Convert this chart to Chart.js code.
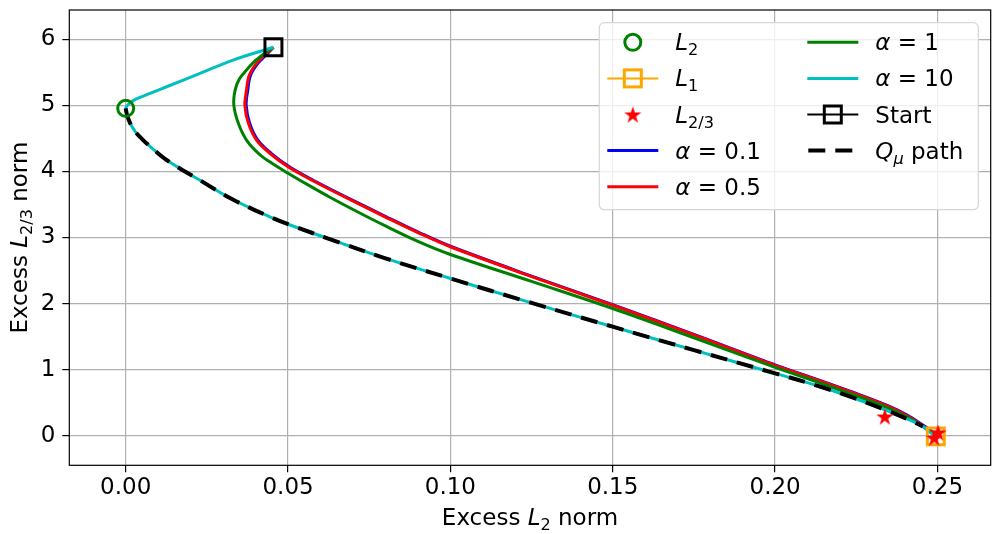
<!DOCTYPE html>
<html>
<head>
<meta charset="utf-8">
<script src="https://cdn.jsdelivr.net/npm/chart.js@4.4.0/dist/chart.umd.min.js"></script>
<style>
    html, body { margin: 0; padding: 0; background: #fff; }
    canvas { display: block; }
</style>
</head>
<body>
<canvas id="pathChart" width="999" height="534"></canvas>
<script>
// ==========================================
// DATA
// ==========================================
const xTicks = [0, 0.05, 0.10, 0.15, 0.20, 0.25];
const xTickLabels = ['0.00', '0.05', '0.10', '0.15', '0.20', '0.25'];
const yTicks = [0, 1, 2, 3, 4, 5, 6];
const yTickLabels = ['0', '1', '2', '3', '4', '5', '6'];

const alphaValues = [0.1, 0.5, 1, 10];

// single markers
const l2X = [0.0];
const l2Y = [4.955];
const l1X = [0.2495];
const l1Y = [-0.01];
const l23X = [0.2338, 0.2502, 0.2490];
const l23Y = [0.29, 0.05, -0.03];
const startX = [0.0455];
const startY = [5.88];

// alpha = 0.1
const a01X = [0.0455, 0.0438, 0.0407, 0.0384, 0.0376, 0.0371, 0.0382, 0.0407, 0.0448, 0.0504, 0.0582, 0.0674, 0.0804, 0.0904, 0.1004, 0.1254, 0.1504, 0.1754, 0.2004, 0.2142, 0.2244, 0.2347, 0.2408, 0.2448, 0.2479, 0.2495];
const a01Y = [5.880, 5.790, 5.636, 5.450, 5.232, 5.005, 4.728, 4.475, 4.274, 4.070, 3.855, 3.625, 3.310, 3.075, 2.860, 2.409, 1.975, 1.525, 1.065, 0.830, 0.650, 0.455, 0.310, 0.185, 0.080, -0.010];

// alpha = 0.5
const a05X = [0.0455, 0.0434, 0.0403, 0.0380, 0.0372, 0.0367, 0.0378, 0.0403, 0.0444, 0.0500, 0.0578, 0.0670, 0.0800, 0.0900, 0.1000, 0.1250, 0.1500, 0.1750, 0.2000, 0.2138, 0.2240, 0.2343, 0.2404, 0.2445, 0.2476, 0.2495];
const a05Y = [5.880, 5.790, 5.636, 5.450, 5.232, 5.005, 4.728, 4.475, 4.274, 4.070, 3.855, 3.625, 3.310, 3.075, 2.860, 2.409, 1.975, 1.525, 1.065, 0.830, 0.650, 0.455, 0.310, 0.185, 0.080, -0.010];

// alpha = 1
const a1X = [0.0455, 0.0434, 0.0400, 0.0372, 0.0350, 0.0337, 0.0333, 0.0347, 0.0372, 0.0413, 0.0460, 0.0500, 0.0547, 0.0629, 0.0721, 0.0800, 0.0900, 0.0998, 0.1250, 0.1500, 0.1750, 0.2000, 0.2138, 0.2240, 0.2343, 0.2404, 0.2445, 0.2476, 0.2495];
const a1Y = [5.880, 5.810, 5.680, 5.535, 5.400, 5.232, 5.005, 4.728, 4.475, 4.256, 4.094, 3.973, 3.837, 3.610, 3.371, 3.175, 2.942, 2.747, 2.335, 1.925, 1.483, 1.035, 0.800, 0.620, 0.430, 0.290, 0.170, 0.070, -0.010];

// alpha = 10
const a10X = [0.0455, 0.0331, 0.0229, 0.0126, 0.0075, 0.0044, 0.0023, 0.0009, 0.0000, 0.0005, 0.0015, 0.0030, 0.0052, 0.0079, 0.0127, 0.0229, 0.0330, 0.0444, 0.0500, 0.0650, 0.0800, 0.1000, 0.1250, 0.1500, 0.1750, 0.2000, 0.2138, 0.2240, 0.2343, 0.2415, 0.2455, 0.2476, 0.2492];
const a10Y = [5.880, 5.686, 5.485, 5.282, 5.182, 5.122, 5.072, 5.020, 4.955, 4.839, 4.718, 4.600, 4.483, 4.362, 4.170, 3.866, 3.575, 3.313, 3.201, 2.939, 2.685, 2.380, 2.010, 1.650, 1.295, 0.944, 0.745, 0.575, 0.385, 0.235, 0.140, 0.060, -0.010];

// Q_mu path
const qX = [0.0000, 0.0005, 0.0015, 0.0030, 0.0052, 0.0079, 0.0127, 0.0229, 0.0330, 0.0444, 0.0500, 0.0650, 0.0800, 0.1000, 0.1250, 0.1500, 0.1750, 0.2000, 0.2138, 0.2240, 0.2343, 0.2415, 0.2455];
const qY = [4.955, 4.839, 4.718, 4.600, 4.483, 4.362, 4.170, 3.866, 3.575, 3.313, 3.201, 2.939, 2.685, 2.380, 2.010, 1.650, 1.295, 0.944, 0.745, 0.575, 0.385, 0.235, 0.140];

// ==========================================
// HELPERS
// ==========================================
const FONT = '"DejaVu Sans", sans-serif';
const FS = 23;
const CYAN = '#00BFBF';
const GREEN = '#008000';
const ORANGE = '#FFA500';

function pts(xs, ys) {
    return xs.map((x, i) => ({ x: x, y: ys[i] }));
}

// filled five point star used as marker
function makeStar(size, color) {
    const c = document.createElement('canvas');
    c.width = size;
    c.height = size;
    const g = c.getContext('2d');
    const cx = size / 2, cy = size / 2 + 0.9;
    const ro = size / 2, ri = ro * 0.382;
    g.beginPath();
    for (let i = 0; i < 10; i++) {
        const r = i % 2 === 0 ? ro : ri;
        const ang = -Math.PI / 2 + i * Math.PI / 5;
        const px = cx + r * Math.cos(ang), py = cy + r * Math.sin(ang);
        if (i === 0) g.moveTo(px, py); else g.lineTo(px, py);
    }
    g.closePath();
    g.fillStyle = color;
    g.fill();
    return c;
}
const starImg = makeStar(18, '#FF0000');

// text with italic and subscript parts, mathtext style
function drawRich(ctx, parts, x, y, size, align) {
    const fontFor = p => (p.it ? 'italic ' : '') + (p.sub ? size * 0.7 : size) + 'px ' + FONT;
    let w = 0;
    parts.forEach(p => { ctx.font = fontFor(p); w += ctx.measureText(p.t).width; });
    let cx = align === 'center' ? x - w / 2 : x;
    ctx.textAlign = 'left';
    ctx.textBaseline = 'alphabetic';
    parts.forEach(p => {
        ctx.font = fontFor(p);
        ctx.fillText(p.t, cx, y + (p.sub ? size * 0.22 : 0));
        cx += ctx.measureText(p.t).width;
    });
}

function lineSet(label, xs, ys, color, order) {
    return {
        label: label,
        data: pts(xs, ys),
        showLine: true,
        borderColor: color,
        borderWidth: 3,
        pointRadius: 0,
        tension: 0.35,
        fill: false,
        borderJoinStyle: 'round',
        order: order
    };
}

// ==========================================
// FRAME, AXIS TITLES AND LEGEND
// ==========================================
const framePlugin = {
    id: 'frame',
    afterDatasetsDraw(chart) {
        const ctx = chart.ctx, a = chart.chartArea;
        ctx.save();
        ctx.strokeStyle = '#000';
        ctx.lineWidth = 1.2;
        ctx.strokeRect(a.left, a.top, a.right - a.left, a.bottom - a.top);
        ctx.restore();
    },
    afterDraw(chart) {
        const ctx = chart.ctx, a = chart.chartArea;
        ctx.save();
        ctx.fillStyle = '#000';
        drawRich(ctx, [{ t: 'Excess ' }, { t: 'L', it: 1 }, { t: '2', sub: 1 }, { t: ' norm' }],
            (a.left + a.right) / 2, 525, FS, 'center');
        ctx.translate(27, (a.top + a.bottom) / 2);
        ctx.rotate(-Math.PI / 2);
        drawRich(ctx, [{ t: 'Excess ' }, { t: 'L', it: 1 }, { t: '2/3', sub: 1 }, { t: ' norm' }],
            0, 0, FS, 'center');
        ctx.restore();
    }
};

const legendPlugin = {
    id: 'mplLegend',
    afterDraw(chart) {
        const ctx = chart.ctx, a = chart.chartArea;
        const bw = 379, bh = 187;
        const bx = a.right - 12.4 - bw, by = a.top + 12.7;
        ctx.save();
        ctx.beginPath();
        ctx.roundRect(bx, by, bw, bh, 5);
        ctx.fillStyle = 'rgba(255,255,255,0.8)';
        ctx.fill();
        ctx.strokeStyle = '#d6d6d6';
        ctx.lineWidth = 1.2;
        ctx.stroke();

        const alphaColors = ['#0000FF', '#FF0000', GREEN, CYAN];
        const entries = [
            { kind: 'circle', color: GREEN, parts: [{ t: 'L', it: 1 }, { t: '2', sub: 1 }] },
            { kind: 'lineSquare', color: ORANGE, parts: [{ t: 'L', it: 1 }, { t: '1', sub: 1 }] },
            { kind: 'star', parts: [{ t: 'L', it: 1 }, { t: '2/3', sub: 1 }] }
        ];
        alphaValues.forEach((v, i) => {
            entries.push({ kind: 'line', color: alphaColors[i], parts: [{ t: 'α', it: 1 }, { t: ' = ' }, { t: String(v) }] });
        });
        entries.push({ kind: 'lineSquare', color: '#000', parts: [{ t: 'Start' }] });
        entries.push({ kind: 'dash', color: '#000', parts: [{ t: 'Q', it: 1 }, { t: 'μ', it: 1, sub: 1 }, { t: ' path' }] });

        const rowH = 36.1;
        entries.forEach((e, i) => {
            const col = i < 5 ? 0 : 1;
            const row = col === 0 ? i : i - 5;
            const hx0 = bx + 8 + col * 200;
            const hx1 = hx0 + 51;
            const hc = (hx0 + hx1) / 2;
            const cy = by + 19.6 + row * rowH;
            ctx.setLineDash([]);
            if (e.kind === 'circle') {
                ctx.beginPath();
                ctx.arc(hc, cy, 8, 0, Math.PI * 2);
                ctx.strokeStyle = e.color;
                ctx.lineWidth = 3;
                ctx.stroke();
            } else if (e.kind === 'star') {
                ctx.drawImage(starImg, hc - 9, cy - 9);
            } else if (e.kind === 'line' || e.kind === 'lineSquare') {
                ctx.beginPath();
                ctx.moveTo(hx0, cy);
                ctx.lineTo(hx1, cy);
                ctx.strokeStyle = e.color;
                ctx.lineWidth = e.kind === 'line' ? 3 : 2;
                ctx.stroke();
                if (e.kind === 'lineSquare') {
                    ctx.lineWidth = 3;
                    ctx.strokeRect(hc - 8.5, cy - 8.5, 17, 17);
                }
            } else if (e.kind === 'dash') {
                ctx.beginPath();
                ctx.setLineDash([17, 10]);
                ctx.lineCap = 'butt';
                ctx.moveTo(hx0 + 1, cy);
                ctx.lineTo(hx1, cy);
                ctx.strokeStyle = e.color;
                ctx.lineWidth = 4;
                ctx.stroke();
                ctx.setLineDash([]);
            }
            ctx.fillStyle = '#000';
            drawRich(ctx, e.parts, hx1 + 17, cy + 8, FS, 'left');
        });
        ctx.restore();
    }
};

// ==========================================
// CHART
// ==========================================
function initPathChart() {
    const ctx = document.getElementById('pathChart');
    if (!ctx) return;

    new Chart(ctx, {
        type: 'scatter',
        data: {
            datasets: [
                { label: 'L2', data: pts(l2X, l2Y), pointStyle: 'circle', pointRadius: 8, borderColor: GREEN, borderWidth: 3, backgroundColor: 'rgba(0,0,0,0)', order: 4 },
                { label: 'L1', data: pts(l1X, l1Y), pointStyle: 'rect', pointRadius: 12, borderColor: ORANGE, borderWidth: 3, backgroundColor: 'rgba(0,0,0,0)', order: 2 },
                { label: 'L2/3', data: pts(l23X, l23Y), pointStyle: starImg, pointRadius: 9, order: 1 },
                lineSet('alpha 0.1', a01X, a01Y, '#0000FF', 9),
                lineSet('alpha 0.5', a05X, a05Y, '#FF0000', 8),
                lineSet('alpha 1', a1X, a1Y, GREEN, 7),
                lineSet('alpha 10', a10X, a10Y, CYAN, 6),
                { label: 'Start', data: pts(startX, startY), pointStyle: 'rect', pointRadius: 12, borderColor: '#000', borderWidth: 3, backgroundColor: 'rgba(0,0,0,0)', order: 3 },
                {
                    label: 'Q path',
                    data: pts(qX, qY),
                    showLine: true,
                    borderColor: '#000',
                    borderWidth: 4,
                    borderDash: [17, 10],
                    borderCapStyle: 'butt',
                    pointRadius: 0,
                    tension: 0.35,
                    order: 5
                }
            ]
        },
        options: {
            responsive: false,
            animation: false,
            devicePixelRatio: 1,
            events: [],
            layout: {
                autoPadding: false,
                padding: { left: 0, top: 10, right: 8.3, bottom: 0 }
            },
            plugins: {
                legend: { display: false },
                tooltip: { enabled: false }
            },
            scales: {
                x: {
                    type: 'linear',
                    min: -0.01737,
                    max: 0.2664,
                    afterBuildTicks: s => { s.ticks = xTicks.map(v => ({ value: v })); },
                    afterFit: s => { s.height = 68.7; s.paddingLeft = 0; s.paddingRight = 0; },
                    grid: { color: '#b0b0b0', lineWidth: 1.2, tickLength: 7, tickColor: '#000', tickWidth: 1.2 },
                    border: { display: false },
                    ticks: {
                        autoSkip: false,
                        maxRotation: 0,
                        padding: 2,
                        color: '#000',
                        font: { family: FONT, size: FS },
                        callback: (v, i) => xTickLabels[i]
                    }
                },
                y: {
                    type: 'linear',
                    min: -0.448,
                    max: 6.444,
                    afterBuildTicks: s => { s.ticks = yTicks.map(v => ({ value: v })); },
                    afterFit: s => { s.width = 69.3; s.paddingTop = 0; s.paddingBottom = 0; },
                    grid: { color: '#b0b0b0', lineWidth: 1.2, tickLength: 7, tickColor: '#000', tickWidth: 1.2 },
                    border: { display: false },
                    ticks: {
                        autoSkip: false,
                        padding: 7,
                        color: '#000',
                        font: { family: FONT, size: FS },
                        callback: (v, i) => yTickLabels[i]
                    }
                }
            }
        },
        plugins: [framePlugin, legendPlugin]
    });
}

document.addEventListener('DOMContentLoaded', initPathChart);
</script>
</body>
</html>
